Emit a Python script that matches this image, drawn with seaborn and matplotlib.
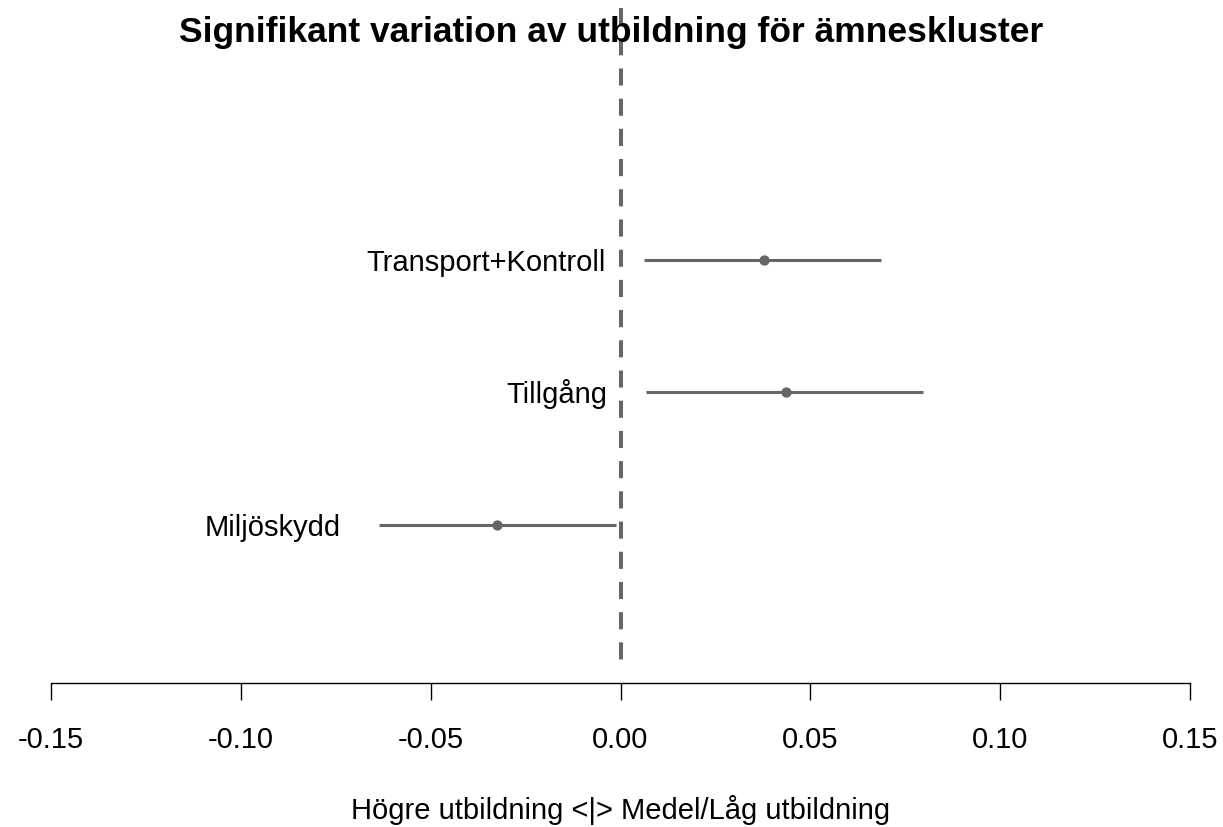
import numpy as np
import pandas as pd
import seaborn as sns
import matplotlib
matplotlib.use("Agg")
import matplotlib.pyplot as plt

sns.set_style("white")
plt.rcParams['font.family'] = ['Liberation Sans', 'DejaVu Sans']
plt.rcParams['axes.unicode_minus'] = False
plt.rcParams['text.color'] = 'black'
plt.rcParams['xtick.color'] = 'black'
plt.rcParams['xtick.labelcolor'] = 'black'

# data (uppskattad från bilden)
kluster = ["Miljöskydd", "Tillgång", "Transport+Kontroll"]
estimat = [-0.0324, 0.0435, 0.0379]
lagre = [-0.0637, 0.0066, 0.0061]
ovre = [-0.0011, 0.0798, 0.0687]
ticks = [-0.15, -0.10, -0.05, 0.00, 0.05, 0.10, 0.15]

df = pd.DataFrame({"kluster": kluster, "est": estimat, "lo": lagre, "hi": ovre})
df["pos"] = np.arange(1, len(df) + 1)

grey = "#666666"
W, H = 1223, 827
fig = plt.figure(figsize=(W / 100, H / 100), dpi=100)
ax = fig.add_axes([51 / W, (H - 660) / H, (1190 - 51) / W, (660 - 8) / H])

ymin = 1 - (660 - 525) / 132.5
ymax = 1 + (525 - 8) / 132.5

# nollinje (ritas uppifrån och ner)
ax.plot([0, 0], [ymax, ymin], color=grey, lw=2.9,
        linestyle=(0, (4.25, 3.25)), zorder=1)

# konfidensintervall + punkter
ax.hlines(df["pos"], df["lo"], df["hi"], color=grey, lw=2.2, zorder=2)
sns.scatterplot(data=df, x="est", y="pos", color=grey, s=55, edgecolor=grey,
                linewidth=0, zorder=3, ax=ax, legend=False)

# etiketter till vänster om intervallen
for _, r in df.iterrows():
    ax.annotate(r["kluster"], (r["lo"] - 0.01, r["pos"]), xytext=(0, -7.6),
                textcoords="offset points", ha="right", va="baseline",
                fontsize=21, color="black")

ax.set_xlim(-0.15, 0.15)
ax.set_ylim(ymin, ymax)
ax.set_xticks(ticks)
ax.set_xticklabels(["%.2f" % t for t in ticks])
ax.set_yticks([])
ax.set_xlabel("")
ax.set_ylabel("")
for s in ["left", "top", "right"]:
    ax.spines[s].set_visible(False)
ax.spines["bottom"].set_position(("outward", 16.5))
ax.spines["bottom"].set_bounds(-0.15, 0.15)
ax.spines["bottom"].set_color("black")
ax.spines["bottom"].set_linewidth(1.0)
ax.tick_params(axis="x", direction="out", length=12.2, width=1.0, color="black",
               labelcolor="black", labelsize=21, pad=19, bottom=True)
ax.patch.set_alpha(0)

fig.text(0.5, 1 - 42 / H, "Signifikant variation av utbildning för ämneskluster",
         ha="center", va="baseline", fontsize=25.5, fontweight="bold", color="black")
fig.text(620.5 / W, 1 - 819 / H, "Högre utbildning <|> Medel/Låg utbildning",
         ha="center", va="baseline", fontsize=21, color="black")

fig.savefig("out.png", dpi=100)
